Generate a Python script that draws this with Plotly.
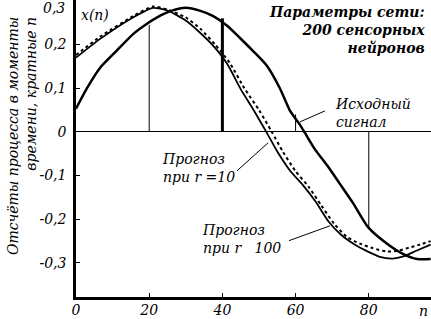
import plotly.graph_objects as go

# ---- data ----
n_signal = [0, 3, 6.6, 11, 15.6, 18.6, 23, 26, 30, 34, 37.5, 41.3, 44.8, 48.4, 52.2, 55.7,
            58.5, 61.2, 62.6, 65.3, 68.9, 72.1, 75.7, 79.8, 85, 89.3, 93.2, 96.9]
v_signal = [0.053, 0.10, 0.147, 0.185, 0.224, 0.243, 0.266, 0.277, 0.284, 0.277, 0.265, 0.243,
            0.215, 0.185, 0.151, 0.10, 0.048, 0.016, -0.003, -0.04, -0.08, -0.119, -0.163,
            -0.218, -0.256, -0.279, -0.291, -0.291]

n_r100 = [0, 6.6, 15.6, 21, 25, 30, 33.9, 37.4, 41.3, 45, 48.4, 52, 55, 58.5, 62, 65.5, 69,
          72.5, 76, 79.5, 83, 86.5, 89.5, 93, 96.9]
v_r100 = [0.170, 0.213, 0.262, 0.284, 0.278, 0.255, 0.227, 0.198, 0.156, 0.098, 0.052, 0.0,
          -0.045, -0.089, -0.122, -0.16, -0.205, -0.236, -0.257, -0.273, -0.286, -0.29,
          -0.285, -0.272, -0.258]

n_r10 = [0, 6.6, 15.6, 21, 25, 30, 34, 38, 42, 46, 50, 53.5, 56.5, 60, 63.5, 67, 70.5, 74,
         77.6, 81, 85, 88, 91, 94, 96.9]
v_r10 = [0.176, 0.218, 0.265, 0.287, 0.28, 0.262, 0.236, 0.2, 0.158, 0.1, 0.05, 0.0, -0.045,
         -0.09, -0.125, -0.168, -0.21, -0.24, -0.256, -0.266, -0.274, -0.272, -0.265, -0.258,
         -0.25]

stem_n = [20, 40, 60, 80]
stem_v = [0.245, 0.26, 0.04, -0.22]
stem_w = [1, 3, 1, 1]

x_ticks = [0, 20, 40, 60, 80]
y_ticks = [-0.3, -0.2, -0.1, 0, 0.1, 0.2]
y_ticktext = ["-0,3", "-0,2", "-0,1", "0", "0,1", "0,2"]

FONT = "DejaVu Serif"

fig = go.Figure()

for n, v, w in zip(stem_n, stem_v, stem_w):
    fig.add_trace(go.Scatter(x=[n, n], y=[0, v], mode="lines",
                             line=dict(color="black", width=w), showlegend=False, hoverinfo="skip"))

fig.add_trace(go.Scatter(x=n_r100, y=v_r100, mode="lines",
                         line=dict(color="black", width=1.8, shape="spline", smoothing=0.6),
                         showlegend=False))
fig.add_trace(go.Scatter(x=n_r10, y=v_r10, mode="lines",
                         line=dict(color="black", width=2, dash="dot", shape="spline", smoothing=0.6),
                         showlegend=False))
fig.add_trace(go.Scatter(x=n_signal, y=v_signal, mode="lines",
                         line=dict(color="black", width=2.5, shape="spline", smoothing=0.6),
                         showlegend=False))

# leader lines
leaders = [((61.2, 0.023), (68.0, 0.048)),
           ((44.0, -0.089), (52.5, -0.025)),
           ((58.2, -0.249), (69.4, -0.215))]
for (x0, y0), (x1, y1) in leaders:
    fig.add_shape(type="line", x0=x0, y0=y0, x1=x1, y1=y1, xref="x", yref="y",
                  line=dict(color="black", width=1))

tf = dict(family=FONT, size=14, color="black", style="italic")

fig.update_layout(
    width=431, height=319,
    margin=dict(l=76, r=0, t=0, b=22, autoexpand=False),
    paper_bgcolor="white", plot_bgcolor="white",
    font=dict(family=FONT, color="black"),
    xaxis=dict(range=[0, 97], tickvals=x_ticks, ticktext=[str(t) for t in x_ticks],
               ticks="inside", ticklen=4, tickwidth=1, tickcolor="black",
               showline=True, linecolor="black", linewidth=2.5,
               showgrid=False, zeroline=False, tickfont=tf, ticklabelstandoff=-2),
    yaxis=dict(range=[-0.378, 0.302], tickvals=y_ticks, ticktext=y_ticktext,
               ticks="inside", ticklen=4, tickwidth=1, tickcolor="black",
               showline=True, linecolor="black", linewidth=2.5,
               showgrid=False, zeroline=True, zerolinecolor="black", zerolinewidth=1,
               tickfont=tf, ticklabelstandoff=4),
)

annotations = [
    dict(text="Параметры сети:<br>200 сенсорных<br>нейронов", x=1, y=1, xanchor="right",
         yanchor="top", align="right", xshift=-4, yshift=-2,
         font=dict(family=FONT, size=14, color="black", style="italic", weight="bold")),
    dict(text="Исходный<br>сигнал", x=(333 - 76) / 355, y=(297 - 94) / 297, xanchor="left",
         yanchor="top", align="left", font=tf),
    dict(text="Прогноз<br>при r =10", x=(160 - 76) / 355, y=(297 - 149) / 297, xanchor="left",
         yanchor="top", align="left", font=tf),
    dict(text="Прогноз<br>при r   100", x=(200 - 76) / 355, y=(297 - 220) / 297, xanchor="left",
         yanchor="top", align="left", font=tf),
    dict(text="0,3", x=0, y=(297 - 8) / 297, xanchor="right", yanchor="middle", xshift=-9, font=tf),
    dict(text="n", x=(423 - 76) / 355, y=0, xanchor="center", yanchor="top", yshift=-4, font=tf),
    dict(text="x(n)", x=(95 - 76) / 355, y=(297 - 15) / 297, xanchor="center", yanchor="middle",
         font=tf),
    dict(text="Отсчёты процесса в моменты<br>времени, кратные n", textangle=-90,
         x=0, y=(297 - 15) / 297, xanchor="right", yanchor="top", xshift=-35, align="right",
         font=tf),
]
for a in annotations:
    a.update(xref="paper", yref="paper", showarrow=False)
fig.update_layout(annotations=annotations)

fig.write_html("out.html", config={"displayModeBar": False},
               post_script="document.body.style.margin='0';")
